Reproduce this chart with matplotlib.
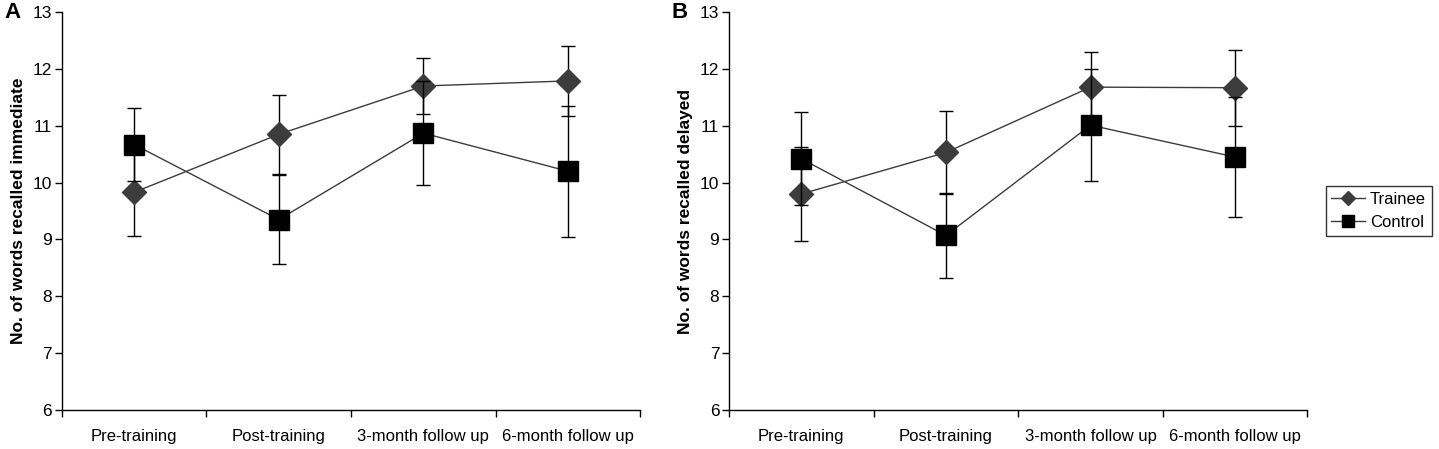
import matplotlib
matplotlib.use("Agg")
import matplotlib.pyplot as plt
from matplotlib.lines import Line2D

plt.rcParams['font.family'] = ['Liberation Sans', 'DejaVu Sans']

phases = ['Pre-training', 'Post-training', '3-month follow up', '6-month follow up']

# panel A: immediate recall
trainee_imm = [9.83, 10.85, 11.70, 11.79]
trainee_imm_err = [0.77, 0.69, 0.49, 0.62]
control_imm = [10.67, 9.35, 10.87, 10.20]
control_imm_err = [0.65, 0.78, 0.92, 1.15]

# panel B: delayed recall
trainee_del = [9.80, 10.53, 11.68, 11.67]
trainee_del_err = [0.82, 0.73, 0.62, 0.67]
control_del = [10.42, 9.07, 11.01, 10.45]
control_del_err = [0.82, 0.74, 0.99, 1.05]

fig = plt.figure(figsize=(14.39, 4.49), dpi=100)
axA = fig.add_axes([0.043, 0.087, 0.402, 0.886])
axB = fig.add_axes([0.5066, 0.087, 0.402, 0.886])

x = list(range(len(phases)))

def draw(ax, tr, tr_err, co, co_err, ylabel, letter):
    ax.errorbar(x, tr, yerr=tr_err, color='#3c3c3c', lw=1.0, marker='D',
                ms=12, mfc='#3c3c3c', mec='#3c3c3c', ecolor='black',
                elinewidth=1.0, capsize=5, capthick=1.0, zorder=3)
    ax.errorbar(x, co, yerr=co_err, color='#3c3c3c', lw=1.0, marker='s',
                ms=15, mfc='black', mec='black', ecolor='black',
                elinewidth=1.0, capsize=5, capthick=1.0, zorder=4)
    ax.set_xlim(-0.5, 3.5)
    ax.set_ylim(6, 13)
    ax.set_yticks(range(6, 14))
    ax.set_xticks([-0.5, 0.5, 1.5, 2.5, 3.5])
    ax.set_xticklabels([])
    ax.set_xticks(x, minor=True)
    ax.set_xticklabels(phases, minor=True, fontsize=12)
    ax.tick_params(axis='x', which='major', direction='out', length=5, width=1)
    ax.tick_params(axis='x', which='minor', length=0, pad=14)
    ax.tick_params(axis='y', direction='out', length=5, width=1, labelsize=12.5, pad=2)
    for s in ['top', 'right']:
        ax.spines[s].set_visible(False)
    for s in ['left', 'bottom']:
        ax.spines[s].set_linewidth(1.0)
    ax.set_ylabel(ylabel, fontsize=12.5, fontweight='bold', labelpad=5)
    ax.text(-0.1, 1.0, letter, transform=ax.transAxes, fontsize=16,
            fontweight='bold', ha='left', va='center')

draw(axA, trainee_imm, trainee_imm_err, control_imm, control_imm_err,
     'No. of words recalled immediate', 'A')
draw(axB, trainee_del, trainee_del_err, control_del, control_del_err,
     'No. of words recalled delayed', 'B')

handles = [Line2D([], [], color='#3c3c3c', lw=1.0, marker='D', ms=7,
                  mfc='#3c3c3c', mec='#3c3c3c'),
           Line2D([], [], color='#3c3c3c', lw=1.0, marker='s', ms=8,
                  mfc='black', mec='black')]
leg = fig.legend(handles, ['Trainee', 'Control'], loc='center',
                 bbox_to_anchor=(0.958, 0.53), fontsize=12, frameon=True,
                 fancybox=False, edgecolor='black', handlelength=2.0,
                 handletextpad=0.3, borderpad=0.35, labelspacing=0.45)
leg.get_frame().set_linewidth(1.0)

fig.savefig('out.png', dpi=100)
